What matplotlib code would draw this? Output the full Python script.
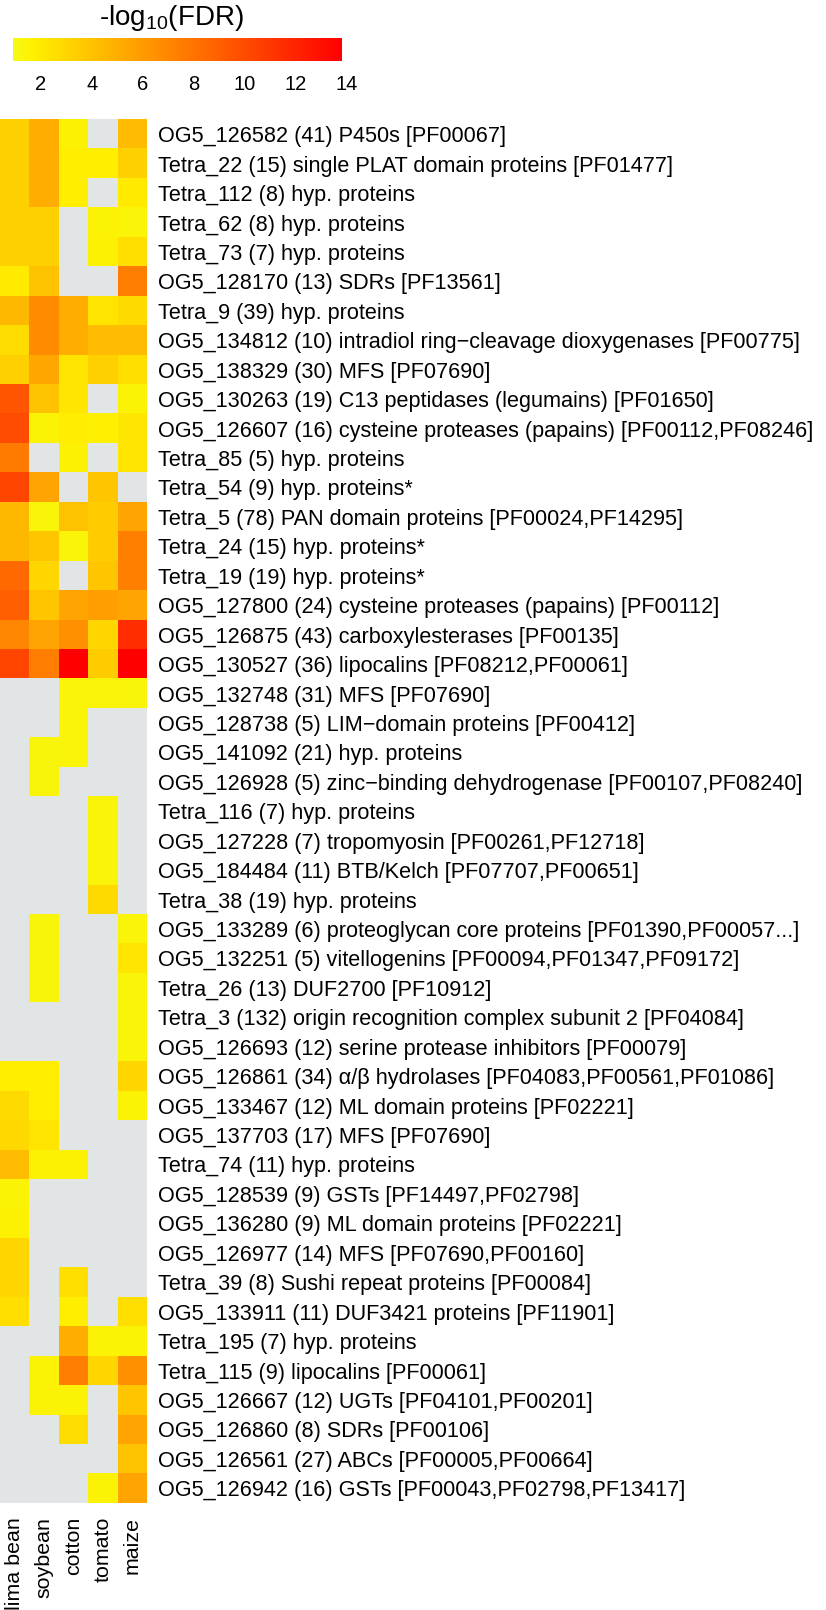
import numpy as np
import matplotlib
matplotlib.use("Agg")
import matplotlib.pyplot as plt
from matplotlib.colors import LinearSegmentedColormap, Normalize

plt.rcParams['font.family'] = ['Liberation Sans', 'DejaVu Sans']
plt.rcParams['mathtext.fontset'] = 'custom'
plt.rcParams['mathtext.rm'] = 'Liberation Sans'
plt.rcParams['mathtext.it'] = 'Liberation Sans'

nan = np.nan

species = ["lima bean", "soybean", "cotton", "tomato", "maize"]

row_labels = [
    "OG5_126582 (41) P450s [PF00067]",
    "Tetra_22 (15) single PLAT domain proteins [PF01477]",
    "Tetra_112 (8) hyp. proteins",
    "Tetra_62 (8) hyp. proteins",
    "Tetra_73 (7) hyp. proteins",
    "OG5_128170 (13) SDRs [PF13561]",
    "Tetra_9 (39) hyp. proteins",
    "OG5_134812 (10) intradiol ring\u2212cleavage dioxygenases [PF00775]",
    "OG5_138329 (30) MFS [PF07690]",
    "OG5_130263 (19) C13 peptidases (legumains) [PF01650]",
    "OG5_126607 (16) cysteine proteases (papains) [PF00112,PF08246]",
    "Tetra_85 (5) hyp. proteins",
    "Tetra_54 (9) hyp. proteins*",
    "Tetra_5 (78) PAN domain proteins [PF00024,PF14295]",
    "Tetra_24 (15) hyp. proteins*",
    "Tetra_19 (19) hyp. proteins*",
    "OG5_127800 (24) cysteine proteases (papains) [PF00112]",
    "OG5_126875 (43) carboxylesterases [PF00135]",
    "OG5_130527 (36) lipocalins [PF08212,PF00061]",
    "OG5_132748 (31) MFS [PF07690]",
    "OG5_128738 (5) LIM\u2212domain proteins [PF00412]",
    "OG5_141092 (21) hyp. proteins",
    "OG5_126928 (5) zinc\u2212binding dehydrogenase [PF00107,PF08240]",
    "Tetra_116 (7) hyp. proteins",
    "OG5_127228 (7) tropomyosin [PF00261,PF12718]",
    "OG5_184484 (11) BTB/Kelch [PF07707,PF00651]",
    "Tetra_38 (19) hyp. proteins",
    "OG5_133289 (6) proteoglycan core proteins [PF01390,PF00057...]",
    "OG5_132251 (5) vitellogenins [PF00094,PF01347,PF09172]",
    "Tetra_26 (13) DUF2700 [PF10912]",
    "Tetra_3 (132) origin recognition complex subunit 2 [PF04084]",
    "OG5_126693 (12) serine protease inhibitors [PF00079]",
    "OG5_126861 (34) \u03b1/\u03b2 hydrolases [PF04083,PF00561,PF01086]",
    "OG5_133467 (12) ML domain proteins [PF02221]",
    "OG5_137703 (17) MFS [PF07690]",
    "Tetra_74 (11) hyp. proteins",
    "OG5_128539 (9) GSTs [PF14497,PF02798]",
    "OG5_136280 (9) ML domain proteins [PF02221]",
    "OG5_126977 (14) MFS [PF07690,PF00160]",
    "Tetra_39 (8) Sushi repeat proteins [PF00084]",
    "OG5_133911 (11) DUF3421 proteins [PF11901]",
    "Tetra_195 (7) hyp. proteins",
    "Tetra_115 (9) lipocalins [PF00061]",
    "OG5_126667 (12) UGTs [PF04101,PF00201]",
    "OG5_126860 (8) SDRs [PF00106]",
    "OG5_126561 (27) ABCs [PF00005,PF00664]",
    "OG5_126942 (16) GSTs [PF00043,PF02798,PF13417]",
]

lima_bean = [3.3, 3.3, 3.3, 3.3, 3.3, 2.0, 4.5, 2.7, 3.3, 9.5,
             10.0, 7.6, 10.3, 4.5, 4.5, 8.5, 9.0, 7.0, 10.3, nan,
             nan, nan, nan, nan, nan, nan, nan, nan, nan, nan,
             nan, nan, 1.8, 2.8, 2.9, 4.3, 1.5, 1.6, 3.0, 3.0,
             2.6, nan, nan, nan, nan, nan, nan]
soybean = [5.0, 5.0, 5.0, 3.3, 3.3, 4.0, 6.7, 6.7, 5.4, 4.0,
           1.5, nan, 5.5, 1.4, 3.8, 3.0, 3.8, 5.5, 7.5, nan,
           nan, 1.3, 1.3, nan, nan, nan, nan, 1.3, 1.3, 1.3,
           nan, nan, 1.8, 1.8, 2.3, 1.6, nan, nan, nan, nan,
           nan, nan, 1.5, 1.5, nan, nan, nan]
cotton = [1.6, 1.8, 1.8, nan, nan, nan, 5.0, 5.0, 2.3, 2.2,
          1.9, 1.6, nan, 4.0, 1.4, nan, 5.5, 6.5, 13.8, 1.4,
          1.4, 1.4, nan, nan, nan, nan, nan, nan, nan, nan,
          nan, nan, nan, nan, nan, 1.6, nan, nan, nan, 2.6,
          1.8, 5.0, 7.5, 1.5, 2.7, nan, nan]
tomato = [nan, 1.8, nan, 1.5, 1.6, nan, 2.3, 4.3, 3.3, nan,
          1.7, nan, 3.8, 3.5, 3.5, 3.8, 5.8, 3.0, 3.5, 1.4,
          nan, nan, nan, 1.4, 1.4, 1.4, 2.8, nan, nan, nan,
          nan, nan, nan, nan, nan, nan, nan, nan, nan, nan,
          nan, 1.5, 3.0, nan, nan, nan, 1.5]
maize = [4.3, 3.3, 2.0, 1.4, 2.6, 7.5, 2.8, 4.3, 2.6, 1.5,
         2.2, 2.2, nan, 5.5, 7.3, 7.3, 5.5, 11.5, 13.8, 1.3,
         nan, nan, nan, nan, nan, nan, nan, 1.4, 2.2, 1.4,
         1.4, 1.4, 3.0, 1.5, nan, nan, nan, nan, nan, nan,
         2.6, 1.5, 6.5, 3.8, 5.5, 4.0, 5.5]

cbar_ticks = [2, 4, 6, 8, 10, 12, 14]

data = np.column_stack([lima_bean, soybean, cotton, tomato, maize])
masked = np.ma.masked_invalid(data)

cmap = LinearSegmentedColormap.from_list(
    "yr", [(0.0, "#F5FA14"), (0.06, "#FFF000"), (1.0, "#FF0000")])
cmap.set_bad("#E1E5E5")
vmin, vmax = 0.9, 13.8
norm = Normalize(vmin=vmin, vmax=vmax)

W, H = 826, 1610
fig = plt.figure(figsize=(W / 100, H / 100), dpi=100)

# heatmap axes
hx0, hx1 = 0, 146.7
hy0, hy1 = 119.5, 1503
ax = fig.add_axes([hx0 / W, 1 - hy1 / H, (hx1 - hx0) / W, (hy1 - hy0) / H])
im = ax.imshow(masked, cmap=cmap, norm=norm, aspect='auto', interpolation='nearest')
for s in ax.spines.values():
    s.set_visible(False)
ax.yaxis.tick_right()
ax.set_yticks(np.arange(len(row_labels)))
ax.set_yticklabels(row_labels, fontsize=15.6)
ax.set_xticks(np.arange(len(species)))
ax.set_xticklabels(species, rotation=90, fontsize=15.4, va='top', ha='center')
ax.tick_params(axis='y', length=0, pad=8)
ax.tick_params(axis='x', length=0, pad=10)

# colorbar
cx0, cx1 = 13, 341.7
cy0, cy1 = 38, 61
cax = fig.add_axes([cx0 / W, 1 - cy1 / H, (cx1 - cx0) / W, (cy1 - cy0) / H])
cb = fig.colorbar(im, cax=cax, orientation='horizontal',
                  ticks=[t for t in cbar_ticks if t <= vmax])
cb.outline.set_visible(False)
cax.tick_params(length=0, pad=10, labelsize=14.5)
for t in cbar_ticks:
    if t > vmax:
        cax.annotate(str(t), xy=(t, 0), xycoords=cax.get_xaxis_transform(),
                     xytext=(0, -10), textcoords='offset points',
                     ha='center', va='top', fontsize=14.5, annotation_clip=False)

fig.text(171 / W, 1 - 18 / H, r'-log$_{\mathregular{10}}$(FDR)', fontsize=20,
         ha='center', va='center')

fig.savefig("out.png", dpi=100)
